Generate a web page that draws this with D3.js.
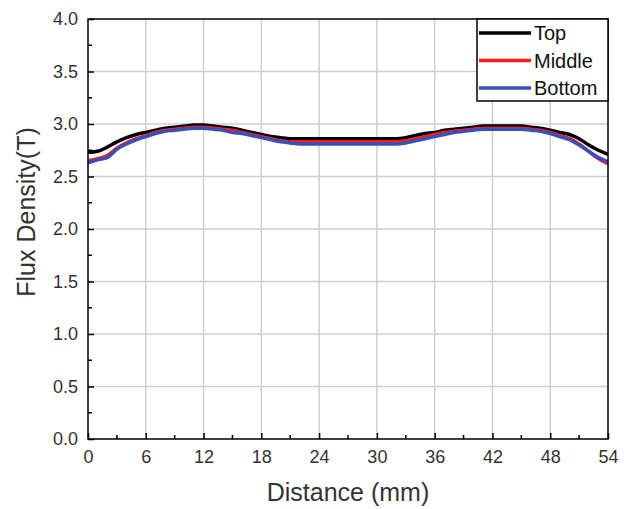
<!DOCTYPE html>
<html>
<head>
<meta charset="utf-8">
<script src="https://cdn.jsdelivr.net/npm/d3@7"></script>
<style>
  body { margin: 0; background: #fff; }
  text { font-family: "Liberation Sans", Arial, sans-serif; }
</style>
</head>
<body>
<div id="chart"></div>
<script>
// Distance (mm) sampled every 1 mm
const distance = d3.range(0, 55);

// Flux density (T)
const topFlux = [
  2.73, 2.74, 2.78, 2.83, 2.87, 2.90, 2.92, 2.94, 2.96, 2.97,
  2.98, 2.99, 2.99, 2.98, 2.97, 2.96, 2.94, 2.92, 2.90, 2.88,
  2.87, 2.86, 2.86, 2.86, 2.86, 2.86, 2.86, 2.86, 2.86, 2.86,
  2.86, 2.86, 2.86, 2.87, 2.89, 2.91, 2.92, 2.94, 2.95, 2.96,
  2.97, 2.98, 2.98, 2.98, 2.98, 2.98, 2.97, 2.96, 2.94, 2.92,
  2.90, 2.86, 2.80, 2.75, 2.71
];
const middleFlux = [
  2.65, 2.67, 2.70, 2.77, 2.82, 2.86, 2.89, 2.92, 2.94, 2.95,
  2.96, 2.97, 2.97, 2.96, 2.95, 2.94, 2.92, 2.90, 2.88, 2.86,
  2.84, 2.83, 2.83, 2.83, 2.83, 2.83, 2.83, 2.83, 2.83, 2.83,
  2.83, 2.83, 2.83, 2.84, 2.86, 2.88, 2.90, 2.92, 2.93, 2.94,
  2.95, 2.96, 2.96, 2.96, 2.96, 2.96, 2.95, 2.94, 2.92, 2.89,
  2.86, 2.81, 2.74, 2.67, 2.62
];
const bottomFlux = [
  2.63, 2.66, 2.68, 2.76, 2.81, 2.85, 2.88, 2.91, 2.93, 2.94,
  2.95, 2.96, 2.96, 2.95, 2.94, 2.92, 2.91, 2.89, 2.87, 2.85,
  2.83, 2.82, 2.81, 2.81, 2.81, 2.81, 2.81, 2.81, 2.81, 2.81,
  2.81, 2.81, 2.81, 2.82, 2.84, 2.86, 2.88, 2.90, 2.92, 2.93,
  2.94, 2.95, 2.95, 2.95, 2.95, 2.95, 2.94, 2.93, 2.91, 2.88,
  2.85, 2.80, 2.74, 2.68, 2.64
];

const seriesNames = ["Top", "Middle", "Bottom"];
const seriesColors = ["#000000", "#ff1a1a", "#3a4fb8"];
const seriesValues = [topFlux, middleFlux, bottomFlux];

const xTicks = [0, 6, 12, 18, 24, 30, 36, 42, 48, 54];
const yTicks = [0, 0.5, 1.0, 1.5, 2.0, 2.5, 3.0, 3.5, 4.0];

const width = 632, height = 509;
const margin = { left: 88, right: 24, top: 19, bottom: 70 };

const svg = d3.select("#chart")
  .append("svg")
  .attr("width", width)
  .attr("height", height);

const x = d3.scaleLinear().domain([0, 54]).range([margin.left, width - margin.right]);
const y = d3.scaleLinear().domain([0, 4]).range([height - margin.bottom, margin.top]);

// ─── GRID ─────────────────────────────
svg.append("g")
  .selectAll("line.vgrid")
  .data(xTicks.slice(1, -1))
  .enter().append("line")
  .attr("x1", d => x(d)).attr("x2", d => x(d))
  .attr("y1", y(0)).attr("y2", y(4))
  .attr("stroke", "#cfcfcf").attr("stroke-width", 1.5);

svg.append("g")
  .selectAll("line.hgrid")
  .data(yTicks.slice(1, -1))
  .enter().append("line")
  .attr("x1", x(0)).attr("x2", x(54))
  .attr("y1", d => y(d)).attr("y2", d => y(d))
  .attr("stroke", "#cfcfcf").attr("stroke-width", 1.5);

// ─── CURVES ───────────────────────────
const line = d3.line()
  .x((d, i) => x(distance[i]))
  .y(d => y(d))
  .curve(d3.curveMonotoneX);

seriesValues.forEach((vals, k) => {
  svg.append("path")
    .datum(vals)
    .attr("d", line)
    .attr("fill", "none")
    .attr("stroke", seriesColors[k])
    .attr("stroke-width", 3.5);
});

// ─── AXES ─────────────────────────────
const xAxis = svg.append("g")
  .attr("transform", `translate(0,${y(0)})`)
  .call(d3.axisBottom(x).tickValues(xTicks).tickSize(-6).tickPadding(11).tickFormat(d3.format("d")));
const yAxis = svg.append("g")
  .attr("transform", `translate(${x(0)},0)`)
  .call(d3.axisLeft(y).tickValues(yTicks).tickSize(-6).tickPadding(10).tickFormat(d3.format(".1f")));

// minor ticks
xAxis.selectAll("line.minor")
  .data(d3.range(3, 54, 6))
  .enter().append("line")
  .attr("x1", d => x(d)).attr("x2", d => x(d))
  .attr("y1", 0).attr("y2", -4)
  .attr("stroke", "#000").attr("stroke-width", 1.5);
yAxis.selectAll("line.minor")
  .data(d3.range(0.25, 4, 0.5))
  .enter().append("line")
  .attr("x1", 0).attr("x2", 4)
  .attr("y1", d => y(d)).attr("y2", d => y(d))
  .attr("stroke", "#000").attr("stroke-width", 1.5);

[xAxis, yAxis].forEach(g => {
  g.select(".domain").remove();
  g.selectAll(".tick line").attr("stroke", "#000").attr("stroke-width", 1.5);
  g.selectAll(".tick text")
    .attr("fill", "#333")
    .style("font-size", "18px");
});

// frame
svg.append("rect")
  .attr("x", x(0)).attr("y", y(4))
  .attr("width", x(54) - x(0)).attr("height", y(0) - y(4))
  .attr("fill", "none")
  .attr("stroke", "#000").attr("stroke-width", 1.5);

// ─── AXIS TITLES ──────────────────────
svg.append("text")
  .attr("x", 348)
  .attr("y", 501)
  .attr("text-anchor", "middle")
  .attr("fill", "#333")
  .style("font-size", "25px")
  .text("Distance (mm)");

svg.append("text")
  .attr("transform", "translate(35,212) rotate(-90)")
  .attr("text-anchor", "middle")
  .attr("fill", "#333")
  .style("font-size", "25px")
  .text("Flux Density(T)");

// ─── LEGEND ───────────────────────────
const legend = svg.append("g").attr("transform", `translate(477,${y(4)})`);
legend.append("rect")
  .attr("width", x(54) - 477).attr("height", 82)
  .attr("fill", "#fff")
  .attr("stroke", "#000").attr("stroke-width", 1.5);

seriesNames.forEach((name, k) => {
  const ly = 14 + k * 27.5;
  legend.append("line")
    .attr("x1", 2).attr("x2", 54)
    .attr("y1", ly).attr("y2", ly)
    .attr("stroke", seriesColors[k]).attr("stroke-width", 3.5);
  legend.append("text")
    .attr("x", 57).attr("y", ly + 7)
    .attr("fill", "#111")
    .style("font-size", "20px")
    .text(name);
});
</script>
</body>
</html>
